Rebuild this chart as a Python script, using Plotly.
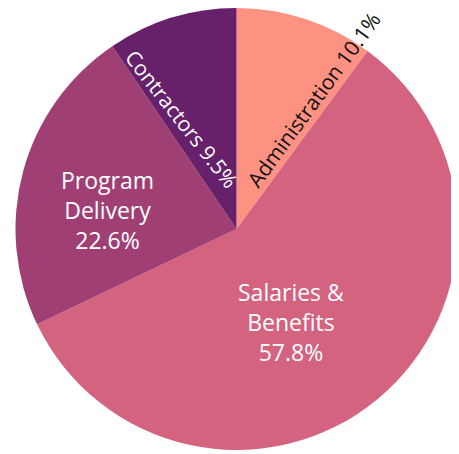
import math
import plotly.graph_objects as go

categories = ["Administration", "Salaries & Benefits", "Program Delivery", "Contractors"]
values = [10.1, 57.8, 22.6, 9.5]
label_text = ["Administration 10.1%", "Salaries &<br>Benefits<br>57.8%", "Program<br>Delivery<br>22.6%", "Contractors 9.5%"]
colors = ["#FD9283", "#D4637F", "#A03F74", "#66216A"]
text_colors = ["#111111", "white", "white", "white"]

# label placement: angle (deg clockwise from top), radius fraction, text rotation, font size
label_angle = [30.7, 149.6, 278.4, 333.6]
label_radius = [0.68, 0.488, 0.59, 0.556]
label_rotation = [-54, 0, 0, 52]
label_size = [21, 23, 23, 21]

W, H = 451, 446
cx, cy, R = 228.5, 221.0, 221.0  # pie centre & radius in figure px (from top-left)

fig = go.Figure(go.Pie(
    labels=categories,
    values=values,
    textinfo="none",
    sort=False,
    direction="clockwise",
    rotation=0,
    marker=dict(colors=colors, line=dict(width=0)),
    hoverinfo="label+percent",
    domain=dict(x=[(cx - R) / W, (cx + R) / W], y=[(H - cy - R) / H, (H - cy + R) / H]),
))

for txt, ang, rf, rot, sz, col in zip(label_text, label_angle, label_radius, label_rotation, label_size, text_colors):
    a = math.radians(ang)
    px = cx + rf * R * math.sin(a)
    py = cy - rf * R * math.cos(a)
    fig.add_annotation(
        x=px / W, y=1 - py / H, xref="paper", yref="paper",
        text=txt, showarrow=False, textangle=rot,
        font=dict(family="Open Sans", size=sz, color=col),
        xanchor="center", yanchor="middle", align="center",
    )

fig.update_layout(
    width=W, height=H,
    margin=dict(l=0, r=0, t=0, b=0),
    showlegend=False,
    paper_bgcolor="white",
)
fig.write_html("out.html")
